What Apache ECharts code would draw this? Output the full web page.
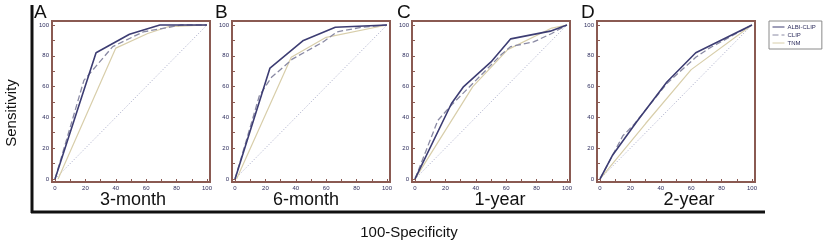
<!DOCTYPE html>
<html>
<head>
<meta charset="utf-8">
<script src="https://cdn.jsdelivr.net/npm/echarts@6/dist/echarts.min.js"></script>
<style>
  html, body { margin: 0; padding: 0; background: #fff; }
  #chart { width: 824px; height: 245px; }
</style>
</head>
<body>
<div id="chart"></div>
<script>
// panels
const panels = ['3-month', '6-month', '1-year', '2-year']
const letters = ['A', 'B', 'C', 'D']
const seriesNames = ['ALBI-CLIP', 'CLIP', 'TNM']
const tickLabels = [0, 20, 40, 60, 80, 100]

// ROC points [100-specificity, sensitivity]
const albiClip = [
  [[0, 0], [27, 82], [49, 94], [69, 100], [100, 100]],
  [[0, 0], [23, 72], [45, 90], [66, 98.5], [100, 100]],
  [[0, 0], [24, 49], [32, 60], [50, 76], [63, 91], [89, 96], [100, 100]],
  [[0, 0], [8, 15], [24, 37], [44, 63], [63, 82], [100, 100]]
]
const clip = [
  [[0, 0], [19, 64], [38, 86], [58, 95.5], [83, 100], [100, 100]],
  [[0, 0], [16, 54], [24, 66], [38, 78], [58, 89], [67, 95.5], [83, 98.5], [100, 100]],
  [[0, 0], [15, 38], [24, 48], [57, 81], [63, 86], [78, 89], [90, 94.5], [100, 100]],
  [[0, 0], [15, 28], [22, 35], [44, 62], [63, 79], [72, 85], [100, 100]]
]
const tnm = [
  [[2, 0], [40, 85], [61, 94.5], [75, 99], [100, 100]],
  [[1, 0], [37, 79], [60, 92], [100, 100]],
  [[0, 0], [38, 60], [61, 84], [90, 98], [100, 100]],
  [[0, 0], [30, 36], [60, 71], [100, 100]]
]
const diagonal = [[0, 0], [100, 100]]

const gridLeft = [52, 232, 412, 597]
const subCenter = [133, 306, 500, 689]
const letterX = [34, 215, 397, 581]

const frameColor = '#8a5a52'
const labelColor = '#2e2e5e'
const font = "'Liberation Sans', Arial, sans-serif"
const colors = { 'ALBI-CLIP': '#3d3d73', 'CLIP': '#8a8aa4', 'TNM': '#d8ceaa' }

const grids = [], xAxes = [], yAxes = [], series = []
const axisCommon = {
  type: 'value',
  axisLine: { show: false, onZero: false },
  splitLine: { show: false },
  axisTick: {
    show: true, inside: true, length: 3,
    customValues: [0, 10, 20, 30, 40, 50, 60, 70, 80, 90, 100],
    lineStyle: { color: frameColor, width: 1 }
  },
  axisLabel: { customValues: tickLabels, fontSize: 6, color: labelColor, margin: 3, fontFamily: font }
}

panels.forEach((p, i) => {
  grids.push({
    left: gridLeft[i], top: 21, width: 158, height: 161,
    show: true, borderColor: frameColor, borderWidth: 2, backgroundColor: '#fff'
  })
  xAxes.push({ ...axisCommon, gridIndex: i, min: -2, max: 102 })
  yAxes.push({ ...axisCommon, gridIndex: i, min: -2, max: 102.6 })
  const base = { type: 'line', xAxisIndex: i, yAxisIndex: i, symbol: 'none', silent: true }
  series.push({ ...base, name: 'reference', data: diagonal, color: '#a4a7c6', lineStyle: { color: '#a4a7c6', width: 1, type: [1, 2] }, z: 1 })
  series.push({ ...base, name: 'TNM', data: tnm[i], color: colors.TNM, lineStyle: { color: colors.TNM, width: 1.2 }, z: 2 })
  series.push({ ...base, name: 'CLIP', data: clip[i], color: colors.CLIP, lineStyle: { color: colors.CLIP, width: 1.3, type: [6, 3] }, z: 3 })
  series.push({ ...base, name: 'ALBI-CLIP', data: albiClip[i], color: colors['ALBI-CLIP'], lineStyle: { color: colors['ALBI-CLIP'], width: 1.6 }, z: 4 })
})

const graphic = [
  { type: 'line', shape: { x1: 32, y1: 5, x2: 32, y2: 213 }, style: { stroke: '#111', lineWidth: 3 } },
  { type: 'line', shape: { x1: 31, y1: 212, x2: 765, y2: 212 }, style: { stroke: '#111', lineWidth: 3 } },
  {
    type: 'text', x: 12, y: 113, rotation: Math.PI / 2,
    style: { text: 'Sensitivity', font: '15px ' + font, fill: '#111', textAlign: 'center', textVerticalAlign: 'middle' }
  },
  {
    type: 'text', x: 409, y: 233,
    style: { text: '100-Specificity', font: '15px ' + font, fill: '#111', textAlign: 'center', textVerticalAlign: 'middle' }
  }
]
panels.forEach((p, i) => {
  graphic.push({
    type: 'text', x: subCenter[i], y: 200,
    style: { text: p, font: '18px ' + font, fill: '#111', textAlign: 'center', textVerticalAlign: 'middle' }
  })
  graphic.push({
    type: 'text', x: letterX[i], y: 3,
    style: { text: letters[i], font: '19px ' + font, fill: '#111', textAlign: 'left', textVerticalAlign: 'top' }
  })
})

const chart = echarts.init(document.getElementById('chart'), null, { renderer: 'canvas' })
chart.setOption({
  animation: false,
  backgroundColor: '#fff',
  grid: grids,
  xAxis: xAxes,
  yAxis: yAxes,
  series,
  graphic,
  legend: {
    data: seriesNames,
    orient: 'vertical',
    left: 769, top: 21,
    borderColor: '#8a8a8a', borderWidth: 1,
    padding: [3, 6, 3, 3],
    itemGap: 2, itemWidth: 12, itemHeight: 5,
    itemStyle: { opacity: 0 },
    lineStyle: { width: 1 },
    textStyle: { fontSize: 6, color: labelColor, fontFamily: font, padding: [0, 0, 0, -2] }
  }
})
</script>
</body>
</html>
